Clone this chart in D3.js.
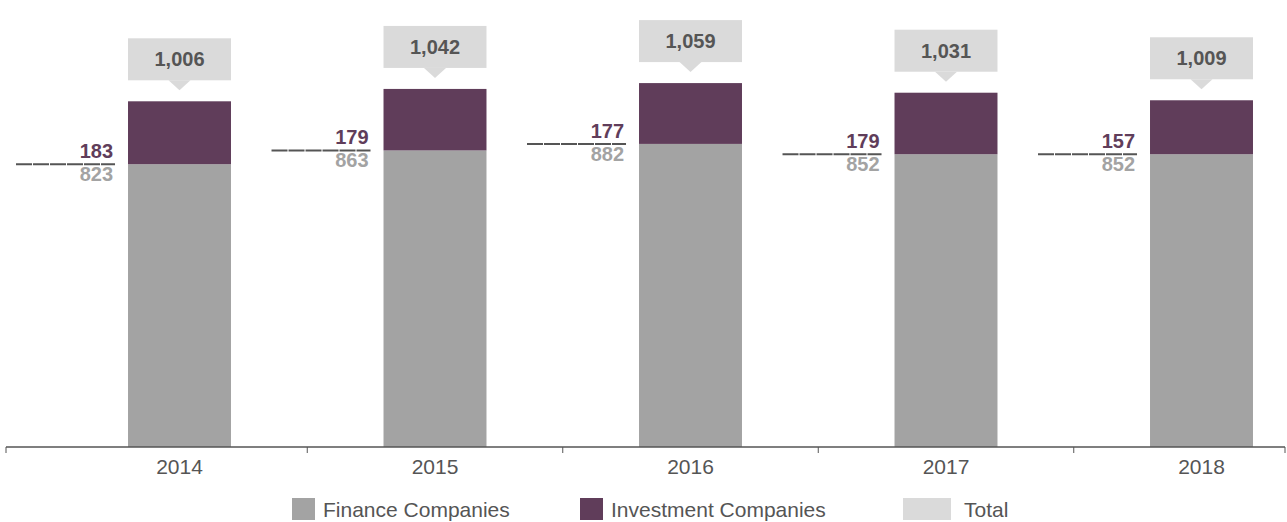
<!DOCTYPE html>
<html>
<head>
<meta charset="utf-8">
<script src="https://cdn.jsdelivr.net/npm/d3@7"></script>
<style>
  body { margin: 0; background: #fff; }
  svg { display: block; font-family: "Helvetica Neue", Helvetica, Arial, "Liberation Sans", sans-serif; }
</style>
</head>
<body>
<div id="chart"></div>
<script>
const years = ["2014", "2015", "2016", "2017", "2018"];
const finance = [823, 863, 882, 852, 852];
const investment = [183, 179, 177, 179, 157];
const totals = [1006, 1042, 1059, 1031, 1009];
const legendLabels = ["Finance Companies", "Investment Companies", "Total"];

(function() {
    const width = 1287, height = 522;
    const colFin = "#a3a3a3", colInv = "#603d5a", colTot = "#dadada", textCol = "#555";

    const svg = d3.select("#chart").append("svg")
        .attr("width", width)
        .attr("height", height);

    const x = d3.scaleBand()
        .domain(years)
        .range([51.75, 1329.25])
        .paddingInner(0.597)
        .paddingOuter(0.2985);

    const y = d3.scaleLinear()
        .domain([0, 1100])
        .range([447, 69]);

    const fmt = d3.format(",");
    const data = years.map((yr, i) => ({year: yr, fin: finance[i], inv: investment[i], tot: totals[i]}));

    // bars
    const g = svg.append("g");
    g.selectAll(".fin").data(data).enter().append("rect")
        .attr("x", d => x(d.year))
        .attr("y", d => y(d.fin))
        .attr("width", x.bandwidth())
        .attr("height", d => y(0) - y(d.fin))
        .attr("fill", colFin);
    g.selectAll(".inv").data(data).enter().append("rect")
        .attr("x", d => x(d.year))
        .attr("y", d => y(d.fin + d.inv))
        .attr("width", x.bandwidth())
        .attr("height", d => y(d.fin) - y(d.fin + d.inv))
        .attr("fill", colInv);

    // total callouts
    const boxH = 42, gap = 21, tipW = 11, tipH = 10;
    const callout = g.selectAll(".callout").data(data).enter().append("g")
        .attr("transform", d => `translate(${x(d.year)},${y(d.tot) - gap - boxH})`);
    callout.append("rect")
        .attr("width", x.bandwidth())
        .attr("height", boxH)
        .attr("fill", colTot);
    callout.append("path")
        .attr("d", () => {
            const c = x.bandwidth() / 2;
            return `M${c - tipW},${boxH} L${c + tipW},${boxH} L${c},${boxH + tipH} Z`;
        })
        .attr("fill", colTot);
    callout.append("text")
        .attr("x", x.bandwidth() / 2)
        .attr("y", boxH / 2 + 7)
        .attr("text-anchor", "middle")
        .attr("font-size", "20px")
        .attr("font-weight", "bold")
        .attr("fill", textCol)
        .text(d => fmt(d.tot));

    // side labels with dashed separator
    const side = g.selectAll(".side").data(data).enter().append("g");
    side.append("line")
        .attr("x1", d => x(d.year) - 112)
        .attr("x2", d => x(d.year) - 13)
        .attr("y1", d => y(d.fin))
        .attr("y2", d => y(d.fin))
        .attr("stroke", textCol)
        .attr("stroke-width", 2)
        .attr("stroke-dasharray", "16,1");
    side.append("text")
        .attr("x", d => x(d.year) - 15)
        .attr("y", d => y(d.fin) - 6)
        .attr("text-anchor", "end")
        .attr("font-size", "20px")
        .attr("font-weight", "bold")
        .attr("fill", colInv)
        .text(d => fmt(d.inv));
    side.append("text")
        .attr("x", d => x(d.year) - 15)
        .attr("y", d => y(d.fin) + 17)
        .attr("text-anchor", "end")
        .attr("font-size", "20px")
        .attr("font-weight", "bold")
        .attr("fill", colFin)
        .text(d => fmt(d.fin));

    // x axis
    const axis = svg.append("g")
        .attr("transform", `translate(0,${y(0)})`)
        .call(d3.axisBottom(x).tickSize(0).tickPadding(12));
    axis.select(".domain").remove();
    axis.selectAll("text")
        .attr("font-size", "21px")
        .attr("font-family", "\"Helvetica Neue\", Helvetica, Arial, \"Liberation Sans\", sans-serif")
        .attr("fill", textCol);

    const step = x.step();
    const bounds = [6].concat(years.slice(1).map(yr => x(yr) + x.bandwidth() / 2 - step / 2), [1285]);
    axis.append("line")
        .attr("x1", 6).attr("x2", 1285)
        .attr("stroke", textCol)
        .attr("stroke-width", 1.5);
    axis.selectAll(".btick").data(bounds).enter().append("line")
        .attr("x1", d => d).attr("x2", d => d)
        .attr("y1", 0).attr("y2", 6)
        .attr("stroke", textCol)
        .attr("stroke-width", 1);

    // legend
    const legendX = [292, 580, 903];
    const swatchW = [23, 23, 48];
    const legendCol = [colFin, colInv, colTot];
    const legend = svg.append("g").attr("transform", "translate(0,498)");
    legendLabels.forEach((lab, i) => {
        legend.append("rect")
            .attr("x", legendX[i])
            .attr("y", 0)
            .attr("width", swatchW[i])
            .attr("height", 22)
            .attr("fill", legendCol[i]);
        legend.append("text")
            .attr("x", legendX[i] + swatchW[i] + (i === 2 ? 13 : 8))
            .attr("y", 18.5)
            .attr("font-size", "21px")
            .attr("fill", textCol)
            .text(lab);
    });
})();
</script>
</body>
</html>
